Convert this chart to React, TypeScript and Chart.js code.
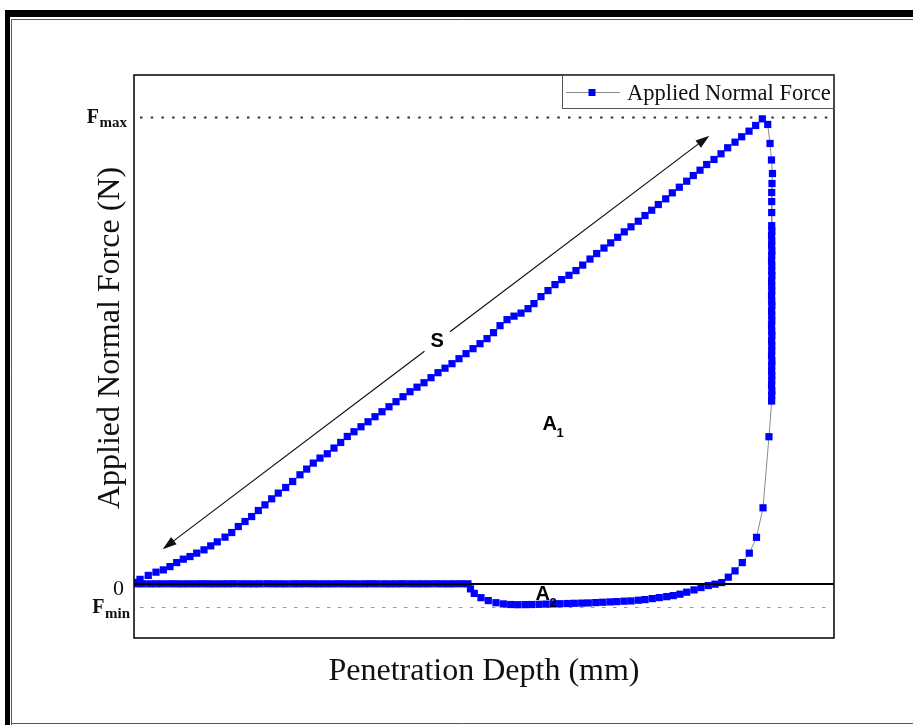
import React, { useEffect, useRef } from "react";
import { Chart, registerables } from "chart.js";

Chart.register(...registerables);

// ---- Data (depth in mm, force in N) ----
// Loading branch (force rises with depth up to Fmax)
const loadDepth = [
  0.014, 0.086, 0.204, 0.314, 0.419, 0.514, 0.61, 0.704, 0.8, 0.896,
  1.0, 1.096, 1.19, 1.3, 1.396, 1.49, 1.586, 1.681, 1.776, 1.871,
  1.967, 2.061, 2.167, 2.267, 2.371, 2.467, 2.561, 2.657, 2.761, 2.857,
  2.953, 3.047, 3.143, 3.243, 3.343, 3.443, 3.543, 3.643, 3.743, 3.843,
  3.943, 4.043, 4.143, 4.243, 4.343, 4.443, 4.543, 4.643, 4.743, 4.843,
  4.943, 5.043, 5.136, 5.229, 5.329, 5.429, 5.529, 5.629, 5.714, 5.814,
  5.914, 6.014, 6.11, 6.214, 6.314, 6.41, 6.514, 6.61, 6.714, 6.81,
  6.91, 7.004, 7.1, 7.204, 7.3, 7.396, 7.49, 7.596, 7.69, 7.79,
  7.896, 7.99, 8.086, 8.181, 8.286, 8.386, 8.481, 8.586, 8.681, 8.786,
  8.881, 8.976,
];
const loadForce = [
  0.32, 0.97, 1.82, 2.51, 3.0, 3.71, 4.57, 5.3, 5.86, 6.59,
  7.3, 8.15, 9.01, 10.02, 11.01, 12.3, 13.37, 14.44, 15.73, 16.95,
  18.24, 19.46, 20.67, 21.95, 23.39, 24.61, 25.9, 26.97, 27.9, 29.12,
  30.32, 31.61, 32.62, 33.69, 34.76, 35.84, 36.91, 37.98, 39.06, 40.13,
  41.2, 42.17, 43.13, 44.21, 45.28, 46.24, 47.21, 48.28, 49.36, 50.43,
  51.5, 52.58, 53.86, 55.36, 56.65, 57.4, 58.05, 59.01, 60.09, 61.59,
  62.88, 64.16, 65.24, 66.16, 67.17, 68.35, 69.64, 70.82, 72.0, 73.11,
  74.31, 75.47, 76.55, 77.75, 78.97, 80.11, 81.33, 82.55, 83.84, 85.04,
  86.33, 87.55, 88.69, 89.91, 90.99, 92.21, 93.5, 94.7, 95.86, 97.06,
  98.28, 99.7,
];
// Unloading branch (force drops at nearly constant depth)
const unloadDepth = [
  9.053, 9.086, 9.107, 9.121, 9.114, 9.11, 9.11, 9.11,
  9.11, 9.112, 9.108, 9.111, 9.109, 9.112, 9.11, 9.108, 9.111, 9.11,
  9.112, 9.109, 9.11, 9.111, 9.108, 9.11, 9.112, 9.109, 9.11, 9.111,
  9.108, 9.11, 9.112, 9.109, 9.111, 9.11, 9.108, 9.112, 9.11, 9.109,
  9.111, 9.11, 9.108, 9.112, 9.11, 9.109,
  9.071, 8.986, 8.893, 8.79, 8.69, 8.586, 8.49, 8.396,
];
const unloadForce = [
  98.5, 94.42, 90.88, 87.98, 85.84, 83.91, 81.97, 79.61,
  76.8, 75.6, 74.7, 73.5, 72.6, 71.4, 70.4, 69.2, 68.3, 67.1,
  66.1, 64.9, 64.0, 62.8, 61.8, 60.6, 59.7, 58.5, 57.6, 56.4,
  55.4, 54.2, 53.3, 52.1, 51.1, 49.9, 49.0, 47.8, 46.8, 45.6,
  44.7, 43.5, 42.6, 41.4, 40.4, 39.2,
  31.55, 16.31, 9.98, 6.59, 4.57, 2.79, 1.44, 0.28,
];
// Adhesion branch (negative force while retracting)
const adhesionDepth = [
  8.3, 8.204, 8.1, 8.0, 7.896, 7.8, 7.704, 7.61, 7.504, 7.404,
  7.3, 7.204, 7.1, 7.0, 6.896, 6.8, 6.696, 6.596, 6.49, 6.396,
  6.29, 6.19, 6.086, 5.99, 5.886, 5.786, 5.681, 5.586, 5.481, 5.381,
  5.276, 5.171, 5.061, 4.957, 4.861, 4.807,
];
const adhesionForce = [
  -0.06, -0.36, -0.79, -1.29, -1.78, -2.21, -2.51, -2.73, -2.94, -3.15,
  -3.37, -3.5, -3.65, -3.71, -3.8, -3.86, -3.93, -4.01, -4.08, -4.12,
  -4.16, -4.21, -4.25, -4.29, -4.33, -4.38, -4.42, -4.44, -4.46, -4.42,
  -4.29, -4.03, -3.58, -2.96, -2.04, -1.07,
];
// Return branch (probe released, zero force)
const returnDepth = [
  4.77, 4.68, 4.58, 4.49, 4.4, 4.31, 4.21, 4.12, 4.03, 3.94,
  3.84, 3.75, 3.66, 3.57, 3.47, 3.38, 3.29, 3.19, 3.1, 3.01,
  2.92, 2.82, 2.73, 2.64, 2.55, 2.45, 2.36, 2.27, 2.17, 2.08,
  1.99, 1.9, 1.8, 1.71, 1.62, 1.53, 1.43, 1.34, 1.25, 1.15,
  1.06, 0.97, 0.88, 0.78, 0.69, 0.6, 0.51, 0.41, 0.32, 0.23,
  0.13, 0.04,
];
const returnForce = [
  0.02, 0.03, 0.02, 0.01, 0.02, 0.03, 0.02, 0.02, 0.01, 0.02,
  0.03, 0.02, 0.01, 0.02, 0.02, 0.03, 0.02, 0.01, 0.02, 0.02,
  0.03, 0.02, 0.02, 0.01, 0.02, 0.03, 0.02, 0.02, 0.01, 0.02,
  0.02, 0.03, 0.02, 0.01, 0.02, 0.02, 0.03, 0.02, 0.02, 0.01,
  0.02, 0.03, 0.02, 0.02, 0.01, 0.02, 0.03, 0.02, 0.02, 0.01,
  0.02, 0.02,
];

const SERIES_LABEL = "Applied Normal Force";
const X_TITLE = "Penetration Depth (mm)";
const Y_TITLE = "Applied Normal Force (N)";

const F_MAX = 100;
const F_MIN = -5;
const X_MIN = 0;
const X_MAX = 10;
const Y_MIN = -11.6;
const Y_MAX = 109.1;

const Y_TICK_VALUES = [F_MAX, 0, F_MIN];
const Y_TICK_MAIN = ["F", "0", "F"];
const Y_TICK_SUB = ["max", "", "min"];

// Annotations (data coordinates)
const ARROW_FROM = { x: 0.41, y: 7.45 };
const ARROW_TO = { x: 8.22, y: 96.1 };
const S_AT = { x: 4.33, y: 52.0 };
const A1_AT = { x: 5.94, y: 34.1 };
const A2_AT = { x: 5.84, y: -2.36 };

const SERIF = '"Liberation Serif", "Times New Roman", serif';
const SANS = '"Liberation Sans", Arial, sans-serif';

const decorPlugin = {
  id: "decor",
  beforeDraw(chart: any) {
    const { ctx, width, height } = chart;
    ctx.save();
    ctx.fillStyle = "#ffffff";
    ctx.fillRect(0, 0, width, height);
    ctx.fillStyle = "#000000";
    ctx.fillRect(5, 10, width - 5, height - 10);
    ctx.fillStyle = "#ffffff";
    ctx.fillRect(10, 17, width - 10, height - 17);
    ctx.strokeStyle = "#555555";
    ctx.lineWidth = 1;
    ctx.beginPath();
    ctx.moveTo(11.5, height);
    ctx.lineTo(11.5, 19.5);
    ctx.lineTo(width, 19.5);
    ctx.moveTo(11.5, 723.5);
    ctx.lineTo(width, 723.5);
    ctx.stroke();
    ctx.restore();
  },
  beforeDatasetsDraw(chart: any) {
    const { ctx, chartArea: a, scales } = chart;
    const y = scales.y;
    ctx.save();
    const pMax = Math.round(y.getPixelForValue(F_MAX)) + 0.5;
    ctx.strokeStyle = "#333333";
    ctx.lineWidth = 1.8;
    ctx.setLineDash([2.5, 8.2]);
    ctx.beginPath();
    ctx.moveTo(a.left + 6, pMax);
    ctx.lineTo(a.right, pMax);
    ctx.stroke();
    const pMin = Math.round(y.getPixelForValue(F_MIN)) + 0.5;
    ctx.strokeStyle = "#9a9a9a";
    ctx.lineWidth = 1;
    ctx.setLineDash([3.5, 7.5]);
    ctx.beginPath();
    ctx.moveTo(a.left + 6, pMin);
    ctx.lineTo(a.right, pMin);
    ctx.stroke();
    ctx.restore();
  },
  afterDatasetsDraw(chart: any) {
    const { ctx, chartArea: a, scales } = chart;
    const xs = scales.x;
    const ys = scales.y;
    ctx.save();

    // zero line
    const p0 = ys.getPixelForValue(0);
    ctx.strokeStyle = "#000000";
    ctx.lineWidth = 2;
    ctx.beginPath();
    ctx.moveTo(a.left, p0);
    ctx.lineTo(a.right, p0);
    ctx.stroke();

    // plot frame
    ctx.lineWidth = 1.5;
    ctx.strokeRect(a.left, a.top, a.right - a.left, a.bottom - a.top);

    // double arrow with gap for "S"
    const p1 = { x: xs.getPixelForValue(ARROW_FROM.x), y: ys.getPixelForValue(ARROW_FROM.y) };
    const p2 = { x: xs.getPixelForValue(ARROW_TO.x), y: ys.getPixelForValue(ARROW_TO.y) };
    const sc = { x: xs.getPixelForValue(S_AT.x), y: ys.getPixelForValue(S_AT.y) };
    const dx = p2.x - p1.x;
    const dy = p2.y - p1.y;
    const len = Math.hypot(dx, dy);
    const ux = dx / len;
    const uy = dy / len;
    const tc = (sc.x - p1.x) * ux + (sc.y - p1.y) * uy;
    const gap = 16;
    const head = 14;
    ctx.strokeStyle = "#111111";
    ctx.fillStyle = "#111111";
    ctx.lineWidth = 1.2;
    ctx.beginPath();
    ctx.moveTo(p1.x + ux * head * 0.8, p1.y + uy * head * 0.8);
    ctx.lineTo(p1.x + ux * (tc - gap), p1.y + uy * (tc - gap));
    ctx.moveTo(p1.x + ux * (tc + gap), p1.y + uy * (tc + gap));
    ctx.lineTo(p2.x - ux * head * 0.8, p2.y - uy * head * 0.8);
    ctx.stroke();
    const drawHead = (tip: any, dirx: number, diry: number) => {
      const bx = tip.x - dirx * head;
      const by = tip.y - diry * head;
      ctx.beginPath();
      ctx.moveTo(tip.x, tip.y);
      ctx.lineTo(bx - diry * 4.5, by + dirx * 4.5);
      ctx.lineTo(bx + diry * 4.5, by - dirx * 4.5);
      ctx.closePath();
      ctx.fill();
    };
    drawHead(p2, ux, uy);
    drawHead(p1, -ux, -uy);

    // annotation texts
    ctx.fillStyle = "#000000";
    ctx.font = `bold 20px ${SANS}`;
    ctx.textAlign = "center";
    ctx.textBaseline = "middle";
    ctx.fillText("S", sc.x, sc.y);
    const drawA = (pt: any, sub: string) => {
      const cx = xs.getPixelForValue(pt.x);
      const cy = ys.getPixelForValue(pt.y);
      ctx.font = `bold 20px ${SANS}`;
      ctx.textAlign = "center";
      ctx.textBaseline = "middle";
      ctx.fillText("A", cx, cy);
      const w = ctx.measureText("A").width;
      ctx.font = `bold 13px ${SANS}`;
      ctx.textAlign = "left";
      ctx.textBaseline = "alphabetic";
      ctx.fillText(sub, cx + w / 2 - 0.5, cy + 12);
    };
    drawA(A1_AT, "1");
    drawA(A2_AT, "2");

    ctx.restore();
  },
  afterDraw(chart: any) {
    const { ctx, chartArea: a, scales } = chart;
    const ys = scales.y;
    ctx.save();

    // legend
    const lx = 562;
    const ly = a.top;
    const lw = a.right - lx;
    const lh = 33;
    ctx.strokeStyle = "#555555";
    ctx.lineWidth = 1;
    ctx.strokeRect(lx + 0.5, ly + 0.5, lw - 0.5, lh);
    const my = ly + 17.5;
    ctx.strokeStyle = "#8c8c8c";
    ctx.beginPath();
    ctx.moveTo(lx + 4, my);
    ctx.lineTo(lx + 58, my);
    ctx.stroke();
    ctx.fillStyle = "#0000ff";
    ctx.fillRect(lx + 30 - 3.5, my - 3.5, 7, 7);
    ctx.fillStyle = "#111111";
    ctx.font = `22.5px ${SERIF}`;
    ctx.textAlign = "left";
    ctx.textBaseline = "alphabetic";
    ctx.fillText(chart.data.datasets[0].label, lx + 65, ly + 25);

    // y tick labels
    const right = 128;
    for (let i = 0; i < Y_TICK_VALUES.length; i++) {
      const py = ys.getPixelForValue(Y_TICK_VALUES[i]);
      const sub = Y_TICK_SUB[i];
      ctx.fillStyle = "#111111";
      ctx.textBaseline = "alphabetic";
      if (!sub) {
        ctx.font = `22px ${SERIF}`;
        ctx.textAlign = "right";
        ctx.fillText(Y_TICK_MAIN[i], right - 4, py + 11);
      } else {
        ctx.font = `bold 15px ${SERIF}`;
        const sw = ctx.measureText(sub).width;
        ctx.textAlign = "right";
        ctx.fillText(sub, right + (i === 2 ? 2 : -1), py + (i === 2 ? 11 : 10));
        ctx.font = `bold 20px ${SERIF}`;
        ctx.fillText(Y_TICK_MAIN[i], right + (i === 2 ? 2 : -1) - sw - 0.5, py + 6);
      }
    }

    // axis titles
    ctx.fillStyle = "#111111";
    ctx.font = `32px ${SERIF}`;
    ctx.textAlign = "center";
    ctx.textBaseline = "alphabetic";
    ctx.fillText(X_TITLE, (a.left + a.right) / 2, 680);
    ctx.translate(119, 338);
    ctx.rotate(-Math.PI / 2);
    ctx.fillText(Y_TITLE, 0, 0);
    ctx.restore();
  },
};

export default function App() {
  const ref = useRef<HTMLCanvasElement>(null);
  useEffect(() => {
    const canvas = ref.current as HTMLCanvasElement;
    const depth = [...loadDepth, ...unloadDepth, ...adhesionDepth, ...returnDepth];
    const force = [...loadForce, ...unloadForce, ...adhesionForce, ...returnForce];
    const chart = new Chart(canvas, {
      type: "scatter",
      data: {
        datasets: [
          {
            label: SERIES_LABEL,
            data: depth.map((x, i) => ({ x, y: force[i] })),
            showLine: true,
            borderColor: "#8c8c8c",
            borderWidth: 1,
            pointStyle: "rect",
            pointRadius: 5.1,
            pointHoverRadius: 5.1,
            pointBackgroundColor: "#0000ff",
            pointBorderColor: "#0000ff",
            pointBorderWidth: 0,
          } as any,
        ],
      },
      options: {
        animation: false,
        responsive: false,
        devicePixelRatio: 1,
        events: [],
        layout: { padding: { left: 134, right: 79, top: 75, bottom: 87 } },
        scales: {
          x: { type: "linear", min: X_MIN, max: X_MAX, display: false },
          y: { type: "linear", min: Y_MIN, max: Y_MAX, display: false },
        },
        plugins: { legend: { display: false }, tooltip: { enabled: false } },
      },
      plugins: [decorPlugin as any],
    });
    return () => chart.destroy();
  }, []);
  return (
    <div style={{ position: "fixed", left: 0, top: 0, width: 913, height: 725, background: "#fff" }}>
      <canvas ref={ref} width={913} height={725} style={{ display: "block", width: 913, height: 725 }} />
    </div>
  );
}
